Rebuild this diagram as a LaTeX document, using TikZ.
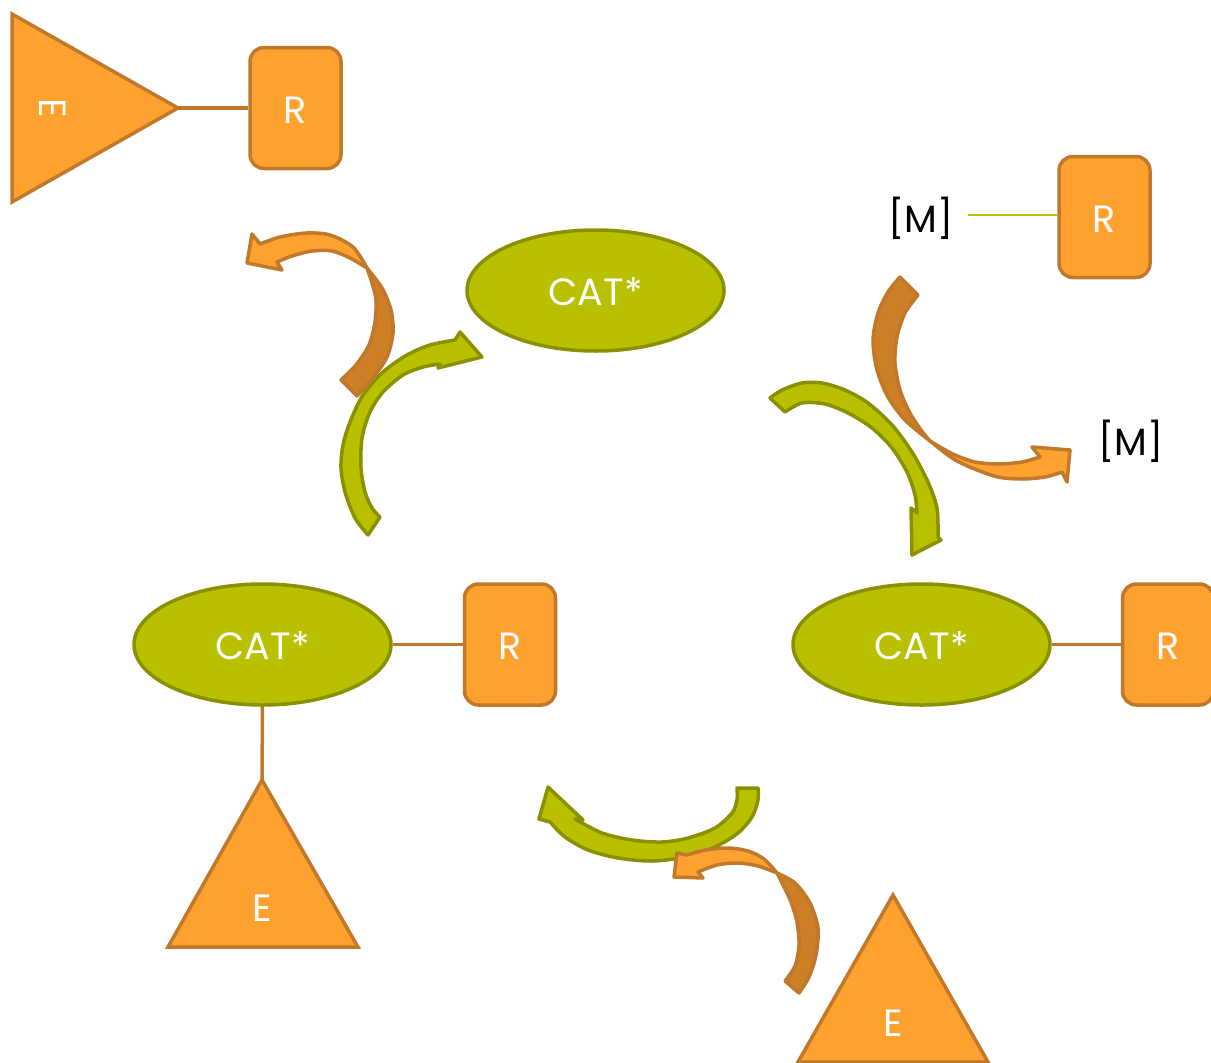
\documentclass[tikz,border=0pt]{standalone}
\usepackage{fontspec}
\setmainfont{Poppins}
\usetikzlibrary{shapes.geometric}
\definecolor{orfill}{HTML}{FFA12F}
\definecolor{orline}{HTML}{C0782A}
\definecolor{ordark}{HTML}{CD8026}
\definecolor{grfill}{HTML}{B8C000}
\definecolor{grline}{HTML}{8A9100}

\begin{document}
\begin{tikzpicture}[x=1pt, y=-1pt,
  lbl/.style={font=\fontsize{38}{40}\selectfont, text=white,
    text height=30.5pt, text depth=0pt},
  catnode/.style={ellipse, draw=grline, fill=grfill, line width=3.5pt,
    minimum width=257pt, minimum height=121pt, inner sep=0pt, lbl},
  rbox/.style={rectangle, rounded corners=14pt, draw=orline, fill=orfill,
    line width=3.5pt, minimum width=91pt, minimum height=121pt, inner sep=0pt, lbl},
  tri/.style={draw=orline, fill=orfill, line width=3.5pt},
  link/.style={draw=orline, line width=3.5pt},
  mlink/.style={draw=grfill, line width=2pt},
  mtext/.style={font=\fontsize{38}{40}\selectfont, text=black, inner sep=8pt},
  greenarrow/.style={draw=grline, fill=grfill, line width=3.5pt, line join=round},
  orlight/.style={draw=orline, fill=orfill, line width=3.5pt, line join=round},
  ordk/.style={draw=orline, fill=ordark, line width=3.5pt, line join=round},
  every plot/.style={smooth, tension=0.5}]

\useasboundingbox (0,0) rectangle (1211,1063);
\fill[white] (0,0) rectangle (1211,1063);

% ---------- top-left: E (pointing right) bound to R ----------
\filldraw[tri] (12,14) -- (178,108) -- (12,202) -- cycle;
\coordinate (e1tip) at (178,108);
\node[lbl, rotate=-90, text height=27pt] (e1) at (53,108) {E};
\node[rbox] (r1) at (295.5,108) {R};
\draw[link] (e1tip) -- (r1.west);

% ---------- top-right: [M] bound to R ----------
\node[rbox] (r4) at (1104.5,217) {R};
\node[mtext] (m1) at (921,218) {[M]};
\draw[mlink, shorten <=6pt] (m1.east |- 0,215) -- (r4.west |- 0,215);
\node[mtext] (m2) at (1131,441) {[M]};

% ---------- catalysts ----------
\node[catnode] (cat1) at (595.5,290.5) {CAT*};
\node[catnode] (cat2) at (262.5,644.5) {CAT*};
\node[catnode] (cat3) at (921.5,644.5) {CAT*};

\node[rbox] (r2) at (510,644.5) {R};
\draw[link] (cat2) -- (r2);
\node[rbox] (r3) at (1168,644.5) {R};
\draw[link] (cat3) -- (r3);

% E bound under the left catalyst
\filldraw[tri] (262,780) -- (358,947) -- (168,947) -- cycle;
\coordinate (e2tip) at (262,780);
\node[lbl] (e2) at (262,906) {E};
\draw[link] (cat2.south) -- (e2tip);

% free E at the bottom
\filldraw[tri] (893,895) -- (988,1062) -- (798,1062) -- cycle;
\node[lbl] (e3) at (893,1021) {E};

% ---------- green cycle arrows ----------
\filldraw[greenarrow]
  plot coordinates {(368,535) (355,518) (345,492) (341,468) (343,445) (350,422)
                    (363,395) (383,372) (407,355) (430,345) (455,340)}
  -- (460,332) -- (482,357) -- (438,368)
  -- plot coordinates {(440,364) (423,367) (403,375) (383,392) (370,412)
                       (362,438) (361,468) (365,492) (372,508) (380,517)}
  -- cycle;

\filldraw[greenarrow]
  plot coordinates {(770,398) (782,390) (802,383) (822,383) (845,390) (868,403)
                    (892,425) (912,452) (928,482) (937,508) (938,537)}
  -- (941,540) -- (912,555) -- (911,508)
  -- plot coordinates {(917,513) (915,495) (907,472) (892,448) (872,428)
                       (848,413) (825,404) (802,403) (785,412)}
  -- cycle;

\filldraw[greenarrow]
  plot coordinates {(758,788) (758,800) (752,817) (738,833) (715,847) (685,857)
                    (652,861) (618,858) (588,850) (565,837) (550,822)}
  -- (539,819) -- (548,787) -- (583,820)
  -- plot coordinates {(575,819) (602,833) (632,840) (662,842) (688,838)
                       (715,828) (732,813) (737,800) (737,788)}
  -- cycle;

% ---------- orange twisted arrows ----------
% release of E (top-left)
\filldraw[ordk]
  plot coordinates {(367,268) (382,288) (391,310) (393,333) (387,357) (373,378) (357,396)}
  -- (341,380)
  -- plot coordinates {(341,380) (356,365) (369,345) (375,322) (376,300) (372,283) (367,268)}
  -- cycle;
\filldraw[orlight]
  plot coordinates {(367,268) (353,247) (330,235) (307,233) (280,237) (260,244)}
  -- (252,234) -- (247,263) -- (282,270)
  -- plot coordinates {(277,262) (292,256) (312,251) (332,251) (350,258) (367,268)}
  -- cycle;

% exchange of [M] (right)
\filldraw[ordk]
  plot coordinates {(900,277) (888,292) (878,313) (873,340) (877,370) (888,397)
                    (905,420) (930,441)}
  -- plot coordinates {(930,441) (921,430) (910,413) (900,390) (895,363) (897,337)
                       (905,313) (918,295)}
  -- cycle;
\filldraw[orlight]
  plot coordinates {(930,441) (940,447) (955,455) (975,462) (998,464) (1022,462) (1040,457)}
  -- (1032,447) -- (1070,450) -- (1067,482) -- (1062,472)
  -- plot coordinates {(1062,472) (1045,477) (1022,479) (998,477) (972,468) (952,458) (930,441)}
  -- cycle;

% capture of E (bottom)
\filldraw[ordk]
  plot coordinates {(777,873) (795,883) (810,903) (818,928) (816,955) (809,977) (799,993)}
  -- (785,981)
  -- plot coordinates {(785,981) (795,966) (799,945) (797,922) (791,902) (784,887) (777,873)}
  -- cycle;
\filldraw[orlight]
  plot coordinates {(777,873) (764,859) (748,851) (728,848) (705,850) (687,855)}
  -- (677,853) -- (674,877) -- (703,878) -- (698,872)
  -- plot coordinates {(698,872) (717,865) (738,863) (758,866) (777,873)}
  -- cycle;

\end{tikzpicture}
\end{document}
